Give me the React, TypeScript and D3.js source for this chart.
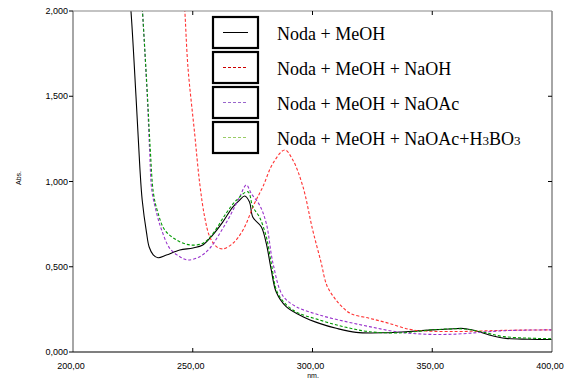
import * as d3 from "d3";

// wavelength (nm), absorbance
const meoh: [number, number][] = [
  [223.5, 2.1], [224.2, 2.0], [226.3, 1.5], [227.9, 1.085], [228.9, 0.89], [230.7, 0.7], [231.8, 0.616],
  [233.5, 0.57], [235.5, 0.553], [239, 0.569], [244.6, 0.598], [250.1, 0.61], [254.2, 0.628],
  [258.3, 0.686], [262.5, 0.762], [266.7, 0.85], [269.5, 0.89], [271.7, 0.915], [273.7, 0.88],
  [275.1, 0.79], [278.6, 0.735], [280.7, 0.637], [282.8, 0.48], [284.9, 0.35], [289, 0.266],
  [296, 0.207], [302.9, 0.168], [309.9, 0.139], [318.2, 0.115], [330.7, 0.113], [339, 0.119],
  [350, 0.13], [357, 0.135], [363, 0.138], [368, 0.125], [373.8, 0.1], [380.8, 0.08], [390, 0.075],
  [400, 0.073],
];
const naoh: [number, number][] = [
  [246.2, 2.1], [246.7, 2.0], [248, 1.67], [250.8, 1.28], [252.9, 0.99], [255, 0.79], [257.1, 0.676],
  [259.9, 0.618], [262.6, 0.605], [266.8, 0.638], [271, 0.716], [275.8, 0.872], [279.3, 0.97],
  [283.5, 1.107], [288.4, 1.185], [291.8, 1.126], [296, 0.97], [300, 0.72], [303.5, 0.53],
  [306, 0.39], [309, 0.32], [312, 0.27], [316, 0.225], [323.75, 0.198], [332, 0.168],
  [340.4, 0.133], [347.4, 0.123], [360, 0.12], [370, 0.123], [380, 0.127], [400, 0.13],
];
const naoac: [number, number][] = [
  [228.5, 2.1], [229, 2.0], [231, 1.5], [232, 1.18], [232.9, 0.95], [234.9, 0.815], [237, 0.716],
  [240.4, 0.608], [244.6, 0.559], [248, 0.54], [252.9, 0.559], [257.1, 0.608], [261.3, 0.696],
  [265.4, 0.794], [269.6, 0.91], [272.4, 0.98], [274.4, 0.93], [277.9, 0.862], [280.7, 0.755],
  [283.5, 0.52], [287.6, 0.33], [293.2, 0.266], [302.9, 0.217], [314, 0.178], [323.75, 0.149],
  [334.9, 0.119], [347.4, 0.104], [360, 0.105], [370, 0.115], [380, 0.125], [400, 0.13],
];
const boric: [number, number][] = [
  [228.5, 2.1], [229, 2.0], [231.1, 1.5], [232.3, 1.18], [233.6, 0.93], [235.5, 0.815], [238.3, 0.716],
  [243.2, 0.657], [248.8, 0.628], [254.3, 0.638], [258.5, 0.696], [264, 0.815], [268.2, 0.89],
  [273, 0.94], [275.1, 0.85], [277.9, 0.79], [280.7, 0.676], [282.8, 0.52], [285.5, 0.344],
  [291.8, 0.246], [302.9, 0.188], [314, 0.145], [323.75, 0.119], [337.6, 0.113], [350, 0.13],
  [363, 0.135], [370, 0.12], [380, 0.09], [400, 0.078],
];

const xTicks = [200, 250, 300, 350, 400];
const yTicks = [0, 0.5, 1, 1.5, 2];

const series = [
  {name: "Noda + MeOH", data: meoh, color: "#000000", legendColor: "#000000", dash: ""},
  {name: "Noda + MeOH + NaOH", data: naoh, color: "#ff3333", legendColor: "#cc0000", dash: "3,2"},
  {name: "Noda + MeOH + NaOAc", data: naoac, color: "#9933cc", legendColor: "#9966cc", dash: "3,2"},
  {name: "Noda + MeOH + NaOAc+H3BO3", data: boric, color: "#009900", legendColor: "#99cc66", dash: "3,2"},
];

const W = 568, H = 381;
const L = 73, R = 552, T = 11, B = 352;

export default function App() {
  const x = d3.scaleLinear().domain([200, 400]).range([L, R]);
  const y = d3.scaleLinear().domain([0, 2]).range([B, T]);
  const line = d3.line<[number, number]>()
    .x(d => x(d[0]))
    .y(d => y(d[1]))
    .curve(d3.curveCatmullRom.alpha(0.5));
  const fmtY = (v: number) => d3.format(".3f")(v).replace(".", ",");
  const fmtX = (v: number) => d3.format(".2f")(v).replace(".", ",");
  const font = "'Liberation Sans', Arial, sans-serif";

  return (
    <svg width={W} height={H} style={{position: "absolute", left: 0, top: 0, background: "#fff"}}>
      <defs>
        <clipPath id="plot">
          <rect x={L} y={T} width={R - L} height={B - T}/>
        </clipPath>
      </defs>

      <g clipPath="url(#plot)">
        {series.map(s => (
          <path key={s.name} d={line(s.data) ?? ""} fill="none" stroke={s.color}
                strokeWidth={1.1} strokeDasharray={s.dash}/>
        ))}
      </g>

      {/* frame */}
      <line x1={L} x2={R} y1={T} y2={T} stroke="#888" strokeWidth={1.2}/>
      <line x1={R} x2={R} y1={T} y2={B} stroke="#888" strokeWidth={1.5}/>
      <line x1={L} x2={L} y1={T} y2={B} stroke="#888" strokeWidth={1.5}/>
      <line x1={L} x2={R} y1={B} y2={B} stroke="#000" strokeWidth={1.2}/>

      {yTicks.map(v => (
        <g key={v}>
          <line x1={L - 4} x2={L} y1={y(v)} y2={y(v)} stroke="#000"/>
          {v > 0 && v < 2 && <line x1={R - 4} x2={R} y1={y(v)} y2={y(v)} stroke="#000"/>}
          <text x={L - 5} y={y(v)} dy="0.35em" textAnchor="end" fontSize={9} fontFamily={font}>{fmtY(v)}</text>
        </g>
      ))}
      {xTicks.map(v => (
        <g key={v}>
          {v > 200 && v < 400 && <>
            <line x1={x(v)} x2={x(v)} y1={B} y2={B - 4} stroke="#000"/>
            <line x1={x(v)} x2={x(v)} y1={T} y2={T + 4} stroke="#000"/>
          </>}
          <text x={x(v) - 2} y={369} textAnchor="middle" fontSize={9} fontFamily={font}>{fmtX(v)}</text>
        </g>
      ))}

      <text x={313} y={378} textAnchor="middle" fontSize={7} fontFamily={font}>nm.</text>
      <text transform="translate(21,178) rotate(-90)" textAnchor="middle" fontSize={7} fontFamily={font}>Abs.</text>

      {/* legend */}
      {series.map((s, i) => {
        const top = 17 + i * 35;
        const cy = top + 15.5;
        return (
          <g key={s.name}>
            <rect x={213} y={top} width={45} height={31} fill="#fff" stroke="#000" strokeWidth={2.2}/>
            <line x1={223} x2={248} y1={cy} y2={cy} stroke={s.legendColor} strokeWidth={1}
                  strokeDasharray={s.dash}/>
            <text x={277} y={top + 22.5} fontSize={18} fontFamily="'Liberation Serif', 'Times New Roman', serif">
              {i === 3
                ? <>Noda + MeOH + NaOAc+H<tspan fontSize={13}>3</tspan>BO<tspan fontSize={13}>3</tspan></>
                : s.name}
            </text>
          </g>
        );
      })}
    </svg>
  );
}
